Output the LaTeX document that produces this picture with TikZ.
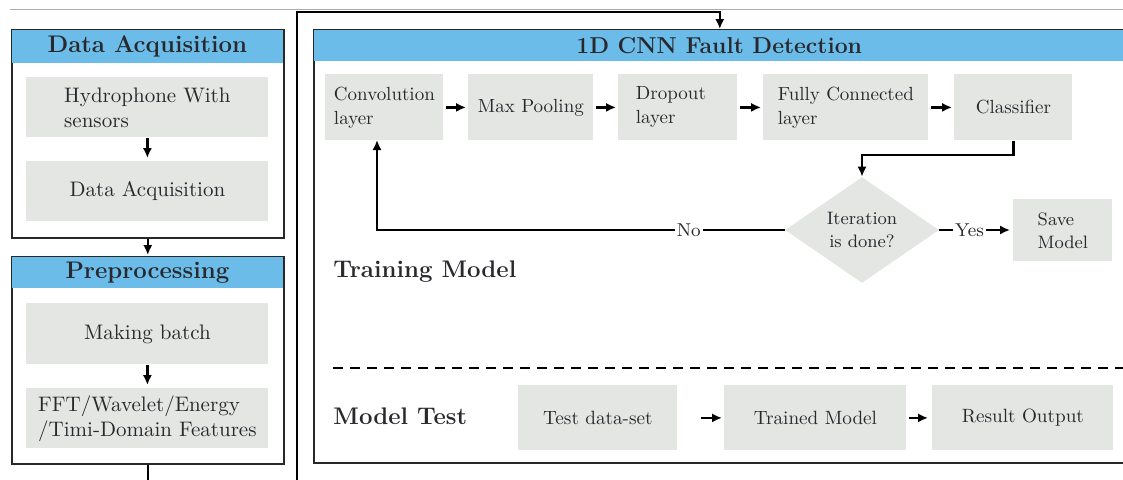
\documentclass[tikz,border=0pt]{standalone}
\usepackage{fontspec}
\usetikzlibrary{arrows.meta,shapes.geometric,calc}
\definecolor{hblue}{RGB}{107,188,233}
\definecolor{gfill}{RGB}{228,230,227}
\definecolor{lcol}{RGB}{40,40,40}
\definecolor{tcol}{RGB}{40,40,45}
\begin{document}
\begin{tikzpicture}[x=0.5pt,y=-0.5pt,
  outer/.style={draw=lcol, line width=0.8pt, anchor=north west, inner sep=0pt},
  head/.style={fill=hblue, anchor=north west, inner sep=0pt, text=tcol, font=\fontsize{12}{14}\selectfont\bfseries},
  gbox/.style={fill=gfill, anchor=north west, inner sep=0pt, text=tcol, align=left},
  lfont/.style={font=\fontsize{10.5}{12.5}\selectfont},
  rfont/.style={font=\fontsize{9.5}{12}\selectfont},
  sfont/.style={font=\fontsize{9}{11.5}\selectfont},
  tfont/.style={font=\fontsize{9.6}{11.5}\selectfont},
  arr/.style={-{Latex[length=5pt,width=4.6pt]}, line width=1.2pt, draw=black},
  lbl/.style={fill=white, inner sep=1pt, text=tcol, font=\fontsize{9.3}{11}\selectfont}
]
\useasboundingbox (0,0) rectangle (1123,479);
% top rule
\draw[gray!65, line width=0.7pt] (10,9.5) -- (1130,9.5);

% ---- Data Acquisition ----
\node[outer, minimum width=136pt, minimum height=104pt] (da) at (11,29) {};
\node[head, minimum width=135.2pt, minimum height=16.2pt] (dah) at (11.8,29.8) {Data Acquisition};
\node[gbox, lfont, minimum width=121pt, minimum height=30pt] (hyd) at (26,77) {Hydrophone With\\sensors};
\node[gbox, lfont, minimum width=121pt, minimum height=30pt] (daq) at (26,161) {Data Acquisition};
\draw[arr, shorten >=1.5pt] (hyd.south) -- (daq.north);

% ---- Preprocessing ----
\node[outer, minimum width=136pt, minimum height=103.5pt] (pre) at (11,256) {};
\node[head, minimum width=135.2pt, minimum height=15.5pt] (preh) at (11.8,256.8) {Preprocessing};
\node[gbox, lfont, minimum width=121pt, minimum height=30.5pt] (mb) at (26,303) {Making batch};
\node[gbox, lfont, minimum width=121pt, minimum height=30pt] (fft) at (26,388) {FFT/Wavelet/Energy\\/Timi-Domain Features};
\draw[arr, shorten >=1.5pt] (mb.south) -- (fft.north);
\draw[arr, shorten >=0.5pt] (da.south) -- (pre.north);

% ---- Main box ----
\node[outer, minimum width=406pt, minimum height=216.5pt] (main) at (313,29) {};
\node[head, minimum width=405pt, minimum height=15.6pt, font=\fontsize{11.5}{14}\selectfont\bfseries] (mainh) at (313.8,29.8) {1D CNN Fault Detection};

% connector from preprocessing to main box
\draw[arr] (pre.south) -- ++(0,40) -| (297,12) -| (main.north);

% training row
\node[gbox, rfont, minimum width=59pt, minimum height=33pt] (conv) at (325,74) {Convolution\\layer};
\node[gbox, rfont, minimum width=62.5pt, minimum height=33pt] (mp) at (468,74) {Max Pooling};
\node[gbox, rfont, minimum width=59.5pt, minimum height=33pt, text width=42pt, inner xsep=8.5pt] (drop) at (618,74) {Dropout\\layer};
\node[gbox, rfont, minimum width=82.5pt, minimum height=33pt] (fc) at (763,74) {Fully Connected\\layer};
\node[gbox, rfont, minimum width=59pt, minimum height=33pt] (cls) at (954,74) {Classifier};
\draw[arr, shorten <=1pt, shorten >=1pt] (conv) -- (mp);
\draw[arr, shorten <=1pt, shorten >=1pt] (mp) -- (drop);
\draw[arr, shorten <=1pt, shorten >=1pt] (drop) -- (fc);
\draw[arr, shorten <=1pt, shorten >=1pt] (fc) -- (cls);

\node[diamond, fill=gfill, inner sep=0pt, minimum width=77pt, minimum height=52pt, align=center, text=tcol, sfont] (dia) at (862,230) {Iteration\\is done?};
\draw[arr] (cls.south) -- ++(0,14) -| (dia.north);

\coordinate (noc) at (377,140);
\draw[arr] (dia.west) -- node[lbl, pos=0.235] {No} (dia.west -| noc) -- (noc);

\node[gbox, sfont, minimum width=49.5pt, minimum height=31pt] (save) at (1013,199) {Save\\Model};
\draw[arr, shorten >=1.5pt] (dia.east) -- node[lbl, pos=0.41] {Yes} (save.west |- dia.east);

\node[anchor=west, inner sep=0pt, text=tcol, font=\fontsize{12}{14}\selectfont\bfseries] (tm) at (333,272) {Training Model};

% dashed separator
\draw[line width=0.8pt, dash pattern=on 5pt off 3.5pt] (333,368) -- (1130,368);

% test row
\node[anchor=west, inner sep=0pt, text=tcol, font=\fontsize{12}{14}\selectfont\bfseries] (mt) at (333,416) {Model Test};
\node[gbox, tfont, minimum width=79.5pt, minimum height=32.5pt, align=center] (test) at (518,385) {Test data-set};
\node[gbox, tfont, minimum width=91pt, minimum height=32.5pt, align=center] (trained) at (724,385) {Trained Model};
\node[gbox, tfont, minimum width=90.5pt, minimum height=32.5pt, align=center] (result) at (932,385) {Result Output};
\draw[arr, shorten <=11.5pt, shorten >=1pt] (test) -- (trained);
\draw[arr, shorten <=1pt, shorten >=2pt] (trained) -- (result);
\end{tikzpicture}
\end{document}
